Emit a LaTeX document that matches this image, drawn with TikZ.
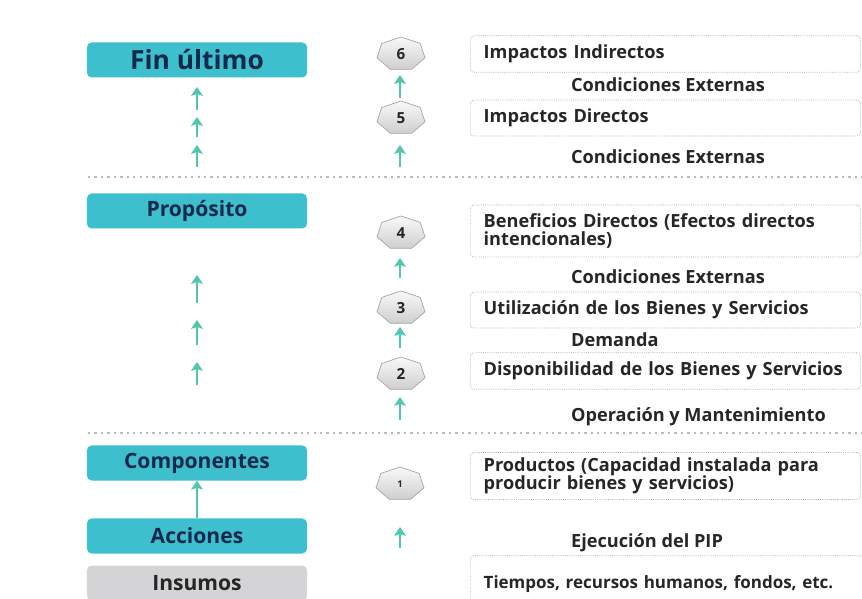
\documentclass[tikz,border=0pt]{standalone}
\usepackage{fontspec}
\setmainfont{Open Sans}
\usetikzlibrary{arrows.meta,positioning}

\definecolor{tealbox}{HTML}{3EBFCD}
\definecolor{navy}{HTML}{13284A}
\definecolor{mint}{HTML}{50C6B0}
\definecolor{insgray}{HTML}{D4D4D6}
\definecolor{txtdark}{HTML}{262626}

\tikzset{
  level/.style={fill=tealbox, rounded corners=4pt, minimum width=6.6cm,
    minimum height=1.05cm, text=navy, font=\bfseries\fontsize{18}{20}\selectfont},
  inputbox/.style={level, fill=insgray, text=txtdark},
  effectbox/.style={draw=gray!70, densely dotted, line width=.6pt, rounded corners=3pt,
    anchor=west, text width=10.9cm, inner xsep=.4cm, align=left, text=txtdark,
    font=\bfseries\fontsize{15.5}{15.5}\selectfont},
  cond/.style={anchor=west, text=txtdark, font=\bfseries\fontsize{15.5}{17}\selectfont},
  hepline/.style={draw=gray!70, line width=.6pt, top color=gray!5, bottom color=gray!38},
  numtext/.style={text=txtdark, font=\bfseries\fontsize{13}{15}\selectfont},
  uparrow/.style={->, draw=mint, line width=2pt},
  sepline/.style={draw=gray!55, line width=1.3pt, dash pattern=on 2pt off 3.5pt}
}

% heptagon with a number: name, centre, number
\newcommand\heptnum[3]{%
  \draw[hepline] (#2) +(0,-17) \foreach \k in {1,...,6}{
    -- +({24.6*cos(270+\k*360/7)},{17*sin(270+\k*360/7)})} -- cycle;
  \node[numtext] (#1) at (#2) {#3};
}

\begin{document}
\begin{tikzpicture}[>={Stealth[length=7.5pt,width=10pt,inset=1.5pt]}, x=0.03cm, y=-0.03cm]
\useasboundingbox (0,0) rectangle (862,599);

% niveles
\node[level, font=\bfseries\fontsize{22.5}{24}\selectfont] (fin) at (197,60) {Fin último};
\node[level] (prop) at (197,211) {Propósito};
\node[level] (comp) at (197,463) {Componentes};
\node[level] (acc) at (197,536) {Acciones};
\node[inputbox] (ins) at (197,583) {Insumos};
\draw[uparrow] (acc) -- (comp);

% separadores
\draw[sepline] (88,177) -- (862,177);
\draw[sepline] (88,433) -- (862,433);

% flechas
\foreach \ya/\yb in {110/87, 137/117, 167/145, 303/275, 345/320, 385/362}
  \draw[uparrow] (197,\ya) -- (197,\yb);
\foreach \ya/\yb in {98/75, 167/145, 278/258, 348/327, 420/397, 548/527}
  \draw[uparrow] (400,\ya) -- (400,\yb);

% numeros
\heptnum{h6}{401,54}{6}
\heptnum{h5}{401,118}{5}
\heptnum{h4}{401,233}{4}
\heptnum{h3}{401,308}{3}
\heptnum{h2}{401,374}{2}
\heptnum{h1}{400,484}{\fontsize{8}{9}\selectfont 1}

% efectos
\node[effectbox, minimum height=1.1cm] (b6) at (470,54) {Impactos Indirectos};
\node[effectbox, minimum height=1.08cm] (b5) at (470,118) {Impactos Directos};
\node[effectbox, minimum height=1.56cm] (b4) at (470,231) {Beneficios Directos (Efectos directos\\ intencionales)};
\node[effectbox, minimum height=1.08cm] (b3) at (470,310) {Utilización de los Bienes y Servicios};
\node[effectbox, minimum height=1.1cm] (b2) at (470,371) {Disponibilidad de los Bienes y Servicios};
\node[effectbox, minimum height=1.41cm] (b1) at (470,476) {Productos (Capacidad instalada para\\ producir bienes y servicios)};
\node[effectbox, minimum height=1.7cm, text width=11cm, font=\bfseries\fontsize{14.5}{15}\selectfont] (b0) at (470,584) {Tiempos, recursos humanos, fondos, etc.};

% condiciones
\node[cond] (c6) at (567,85) {Condiciones Externas};
\node[cond] (c5) at (567,157) {Condiciones Externas};
\node[cond] (c4) at (567,277) {Condiciones Externas};
\node[cond] (c3) at (567,340) {Demanda};
\node[cond] (c2) at (567,417) {Operación y Mantenimiento};
\node[cond] (c1) at (567,543) {Ejecución del PIP};
\end{tikzpicture}
\end{document}
